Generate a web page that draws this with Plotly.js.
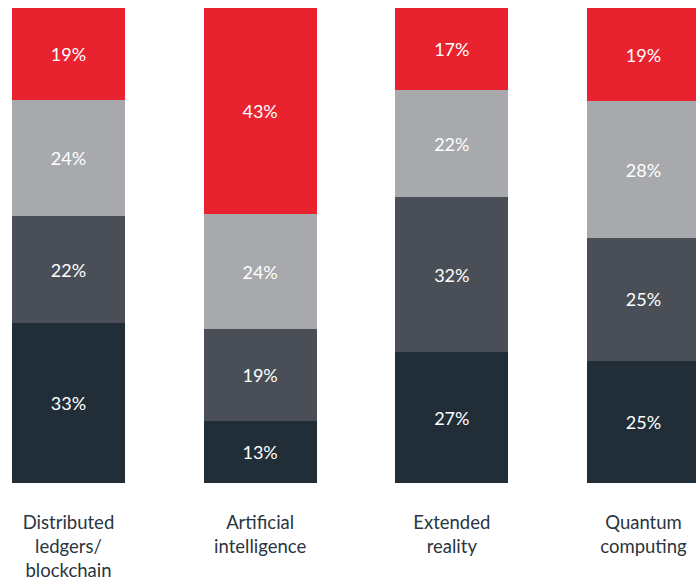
<!DOCTYPE html>
<html>
<head>
<meta charset="utf-8">
<script src="https://cdn.plot.ly/plotly-3.0.1.min.js"></script>
<style>html,body{margin:0;padding:0;background:#fff;}#chart{width:696px;height:579px;}</style>
</head>
<body>
<div id="chart"></div>
<script>
const categories = ["Distributed<br>ledgers/<br>blockchain", "Artificial<br>intelligence", "Extended<br>reality", "Quantum<br>computing"];
const seriesNames = ["Level 1", "Level 2", "Level 3", "Level 4"];
const level1 = [33, 13, 27, 25];
const level2 = [22, 19, 32, 25];
const level3 = [24, 24, 22, 28];
const level4 = [19, 43, 17, 19];
const colors = ["#212E38", "#4A4F57", "#A7A9AC", "#E8232F"];

const seriesValues = [level1, level2, level3, level4];
const traces = seriesValues.map((vals, i) => ({
  type: "bar",
  name: seriesNames[i],
  x: categories,
  y: vals,
  text: vals.map(v => v + "%"),
  texttemplate: "%{text}",
  textposition: "inside",
  insidetextanchor: "middle",
  textangle: 0,
  textfont: {family: "Lato, sans-serif", size: 18, color: "#ffffff"},
  marker: {color: colors[i], line: {width: 0}},
  width: 0.59,
  hoverinfo: "skip"
}));

const layout = {
  width: 696, height: 579,
  barmode: "stack",
  barnorm: "percent",
  showlegend: false,
  paper_bgcolor: "#ffffff",
  plot_bgcolor: "#ffffff",
  margin: {l: 0, r: 0, t: 8, b: 96, pad: 0},
  font: {family: "Lato, sans-serif"},
  xaxis: {
    type: "category",
    range: [-0.3573, 3.274],
    showgrid: false, zeroline: false, showline: false, ticks: "",
    tickfont: {family: "Lato, sans-serif", size: 18.5, color: "#2A3540"},
    ticklabelstandoff: 26
  },
  yaxis: {
    range: [0, 100],
    showgrid: false, zeroline: false, showline: false, ticks: "", showticklabels: false
  },
  uniformtext: {mode: false}
};

Plotly.newPlot("chart", traces, layout, {displayModeBar: false, staticPlot: true});
</script>
</body>
</html>
